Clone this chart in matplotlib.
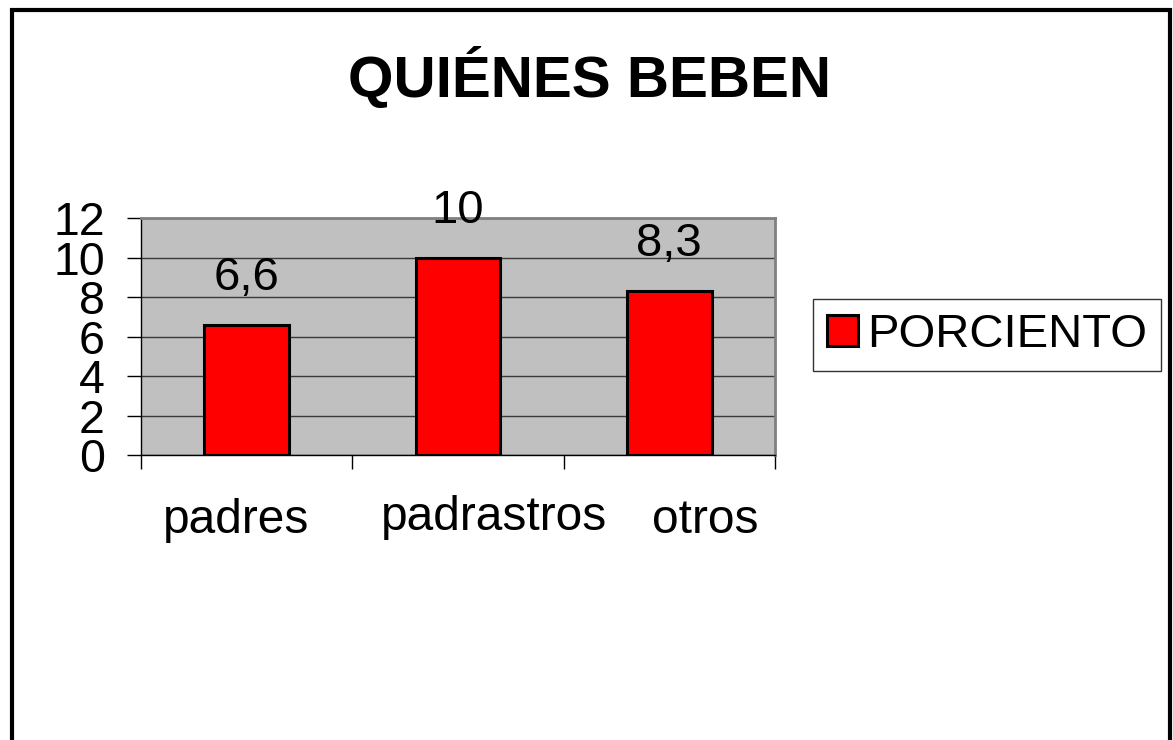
import matplotlib.pyplot as plt
import matplotlib.patches as mpatches
from matplotlib.transforms import ScaledTranslation

plt.rcParams['font.family'] = ['Liberation Sans', 'DejaVu Sans']

categories = ['padres', 'padrastros', 'otros']
porciento = [6.6, 10, 8.3]
series_name = 'PORCIENTO'
title = 'QUIÉNES BEBEN'
yticks = [0, 2, 4, 6, 8, 10, 12]

W, H = 1173, 740
fig = plt.figure(figsize=(W / 100, H / 100), dpi=100)

# plot area in pixel coords
left, right, top, bottom = 141, 775, 218, 455
ax = fig.add_axes([left / W, 1 - bottom / H, (right - left) / W, (bottom - top) / H])
ax.set_facecolor('#c0c0c0')

x = [i + 0.5 for i in range(len(categories))]
bars = ax.bar(x, porciento, width=0.4, color='#ff0000', edgecolor='black',
              linewidth=2.2, label=series_name, zorder=3)

for xi, v in zip(x, porciento):
    ax.annotate(f"{v:g}".replace('.', ','), (xi, v), xytext=(0, 25),
                textcoords='offset points', ha='center', va='baseline',
                fontsize=34)

ax.set_xlim(0, len(categories))
ax.set_ylim(0, 12)
ax.set_yticks(yticks)
ax.yaxis.grid(True, color='#3a3a3a', linewidth=1, zorder=1)
ax.set_axisbelow(True)
ax.tick_params(axis='y', direction='out', length=10, width=1, pad=16, labelsize=33.5)

ax.set_xticks(range(len(categories) + 1))
ax.set_xticklabels([])
ax.tick_params(axis='x', which='major', direction='out', length=10, width=1)
ax.set_xticks(x, minor=True)
ax.set_xticklabels(categories, minor=True, fontsize=34.5)
ax.tick_params(axis='x', which='minor', length=0, pad=31)

# nudge category labels the way the original sits them (pixels)
nudges = [(-11, 0), (36, 3), (36, 0)]
for lab, (dx, dy) in zip(ax.get_xticklabels(minor=True), nudges):
    lab.set_transform(lab.get_transform() + ScaledTranslation(dx / 100, dy / 100, fig.dpi_scale_trans))

for s in ['top', 'right']:
    ax.spines[s].set_color('#808080')
    ax.spines[s].set_linewidth(2)
for s in ['left', 'bottom']:
    ax.spines[s].set_color('black')
    ax.spines[s].set_linewidth(1)

fig.text(590 / W, 1 - 97 / H, title, ha='center', va='baseline',
         fontsize=42, fontweight='bold')

leg = fig.legend(handles=[bars], labels=[series_name], loc='upper left',
                 bbox_to_anchor=(813 / W, 1 - 299 / H), fontsize=34,
                 frameon=True, fancybox=False, edgecolor='black',
                 handlelength=0.65, handleheight=0.65, handletextpad=0.2,
                 borderpad=0.3, borderaxespad=0)
leg.get_frame().set_linewidth(1)

# outer frame of the slide
border = mpatches.Rectangle((11.5 / W, -0.1), (1170 - 11.5) / W, 1 - 9.5 / H + 0.1,
                            transform=fig.transFigure, fill=False,
                            edgecolor='black', linewidth=3, clip_on=False)
fig.patches.append(border)

fig.savefig('out.png', dpi=100)
